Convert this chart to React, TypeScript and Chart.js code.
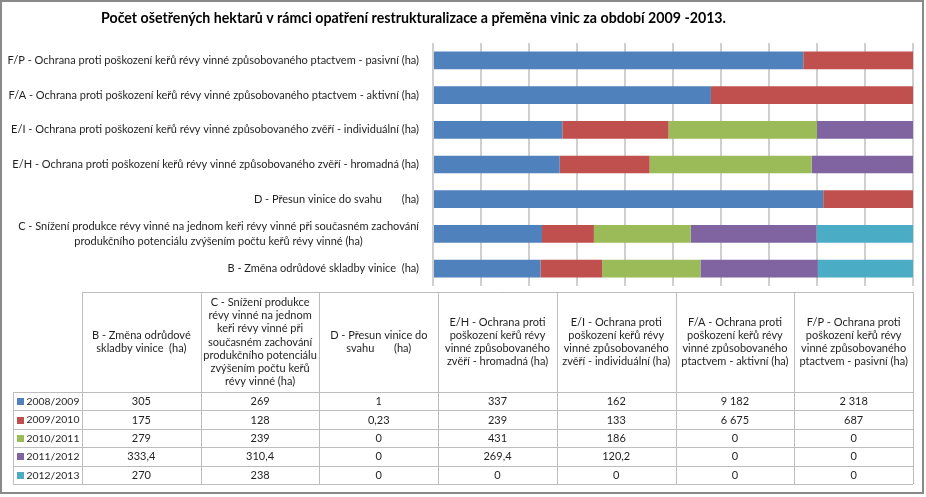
import React, { useEffect, useRef } from 'react';
import { Chart, registerables } from 'chart.js';

Chart.register(...registerables);

const TITLE = 'Počet ošetřených hektarů v rámci opatření restrukturalizace a přeměna vinic za období 2009 -2013.';

const categoryLabels: (string | string[])[] = [
  'B - Změna odrůdové skladby vinice  (ha)',
  ['C - Snížení produkce révy vinné na jednom keři révy vinné při současném zachování', 'produkčního potenciálu zvýšením počtu keřů révy vinné (ha)'],
  'D - Přesun vinice do svahu       (ha)',
  'E/H - Ochrana proti poškození keřů révy vinné způsobovaného zvěří - hromadná (ha)',
  'E/I - Ochrana proti poškození keřů révy vinné způsobovaného zvěří - individuální (ha)',
  'F/A - Ochrana proti poškození keřů révy vinné způsobovaného ptactvem - aktivní (ha)',
  'F/P - Ochrana proti poškození keřů révy vinné způsobovaného ptactvem - pasivní (ha)',
];

const tableHeaders: string[][] = [
  ['B - Změna odrůdové', 'skladby vinice  (ha)'],
  ['C - Snížení produkce', 'révy vinné na jednom', 'keři révy vinné při', 'současném zachování', 'produkčního potenciálu', 'zvýšením počtu keřů', 'révy vinné (ha)'],
  ['D - Přesun vinice do', 'svahu       (ha)'],
  ['E/H - Ochrana proti', 'poškození keřů révy', 'vinné způsobovaného', 'zvěří - hromadná (ha)'],
  ['E/I - Ochrana proti', 'poškození keřů révy', 'vinné způsobovaného', 'zvěří - individuální (ha)'],
  ['F/A - Ochrana proti', 'poškození keřů révy', 'vinné způsobovaného', 'ptactvem - aktivní (ha)'],
  ['F/P - Ochrana proti', 'poškození keřů révy', 'vinné způsobovaného', 'ptactvem - pasivní (ha)'],
];

const seasons = ['2008/2009', '2009/2010', '2010/2011', '2011/2012', '2012/2013'];
const v2008_2009 = [305, 269, 1, 337, 162, 9182, 2318];
const v2009_2010 = [175, 128, 0.23, 239, 133, 6675, 687];
const v2010_2011 = [279, 239, 0, 431, 186, 0, 0];
const v2011_2012 = [333.4, 310.4, 0, 269.4, 120.2, 0, 0];
const v2012_2013 = [270, 238, 0, 0, 0, 0, 0];
const seriesValues = [v2008_2009, v2009_2010, v2010_2011, v2011_2012, v2012_2013];

const seriesColors = ['#4F81BD', '#C0504D', '#9BBB59', '#8064A2', '#4BACC6'];

const FAMILY = 'Lato';
const TEXT = '#1f1f1f';

function fmt(v: number): string {
  const [i, d] = String(v).split('.');
  const ig = i.replace(/\B(?=(\d{3})+(?!\d))/g, '\u00a0');
  return d ? ig + ',' + d : ig;
}

function fitSize(text: string, weight: string, target: number): number {
  const c = document.createElement('canvas').getContext('2d')!;
  c.font = `${weight} 100px ${FAMILY}`;
  return Math.round(((100 * target) / c.measureText(text).width) * 10) / 10;
}

export default function App() {
  const ref = useRef<HTMLCanvasElement>(null);

  useEffect(() => {
    const canvas = ref.current!;
    const labelSize = fitSize(categoryLabels[6] as string, 'normal', 410);
    const titleSize = fitSize(TITLE, 'bold', 627);
    const legendSize = fitSize(seasons[0], 'normal', 53);
    const labelFont = `normal ${labelSize}px ${FAMILY}`;
    const legendFont = `normal ${legendSize}px ${FAMILY}`;

    // center second line of the two-line label under the first one
    const mctx = document.createElement('canvas').getContext('2d')!;
    mctx.font = labelFont;
    const yLabels = categoryLabels.map((l) => {
      if (!Array.isArray(l)) return l;
      const w1 = mctx.measureText(l[0]).width;
      const w2 = mctx.measureText(l[1]).width;
      const sp = mctx.measureText(' ').width;
      const n = Math.max(0, Math.round((w1 - w2) / 2 / sp));
      return [l[0], l[1] + ' '.repeat(n)];
    });

    const totals = categoryLabels.map((_, j) => seriesValues.reduce((s, arr) => s + arr[j], 0));
    const datasets = seasons.map((name, i) => ({
      label: name,
      data: seriesValues[i].map((v, j) => (v / totals[j]) * 100),
      backgroundColor: seriesColors[i],
      borderWidth: 0,
      barPercentage: 0.51,
      categoryPercentage: 1,
    }));

    const decor = {
      id: 'decor',
      afterDraw(chart: any) {
        const ctx = chart.ctx as CanvasRenderingContext2D;
        ctx.save();
        // outer border
        ctx.strokeStyle = '#8a8a8a';
        ctx.lineWidth = 2;
        ctx.strokeRect(1, 1, 922, 492);

        // title
        ctx.fillStyle = '#000';
        ctx.font = `bold ${titleSize}px ${FAMILY}`;
        ctx.textAlign = 'center';
        ctx.textBaseline = 'middle';
        ctx.fillText(TITLE, 413.5, 18.5);

        // data table
        const right = chart.chartArea.right;
        const colLeft = 82;
        const ncol = categoryLabels.length;
        const colW = (right - colLeft) / ncol;
        const headTop = 292;
        const headBottom = 392;
        const rowH = 18.4;
        const legLeft = 13;
        const tableBottom = headBottom + rowH * seasons.length;

        ctx.strokeStyle = '#bdbdbd';
        ctx.lineWidth = 1;
        ctx.beginPath();
        ctx.moveTo(colLeft, headTop + 0.5);
        ctx.lineTo(right, headTop + 0.5);
        for (let r = 0; r <= seasons.length; r++) {
          const y = Math.round(headBottom + r * rowH) + 0.5;
          ctx.moveTo(legLeft, y);
          ctx.lineTo(right, y);
        }
        ctx.moveTo(legLeft + 0.5, headBottom);
        ctx.lineTo(legLeft + 0.5, tableBottom);
        for (let c = 0; c <= ncol; c++) {
          const x = Math.round(colLeft + c * colW) + 0.5;
          ctx.moveTo(x, headTop);
          ctx.lineTo(x, tableBottom);
        }
        ctx.stroke();

        ctx.fillStyle = TEXT;
        ctx.font = labelFont;
        ctx.textAlign = 'center';
        ctx.textBaseline = 'middle';
        const lh = 13.3;
        tableHeaders.forEach((lines, c) => {
          const cx = colLeft + (c + 0.5) * colW;
          const cy = (headTop + headBottom) / 2;
          const y0 = cy - ((lines.length - 1) * lh) / 2;
          lines.forEach((t, k) => ctx.fillText(t, cx, y0 + k * lh));
        });
        seasons.forEach((name, r) => {
          const cy = headBottom + (r + 0.5) * rowH + 0.5;
          ctx.fillStyle = seriesColors[r];
          ctx.fillRect(17, Math.round(cy - 3.5), 7, 7);
          ctx.fillStyle = TEXT;
          ctx.font = legendFont;
          ctx.textAlign = 'left';
          ctx.fillText(name, 26.5, cy);
          ctx.font = labelFont;
          ctx.textAlign = 'center';
          seriesValues[r].forEach((v, c) => {
            ctx.fillText(fmt(v), colLeft + (c + 0.5) * colW, cy);
          });
        });
        ctx.restore();
      },
    };

    const chart = new Chart(canvas, {
      type: 'bar',
      data: { labels: yLabels as any, datasets },
      options: {
        indexAxis: 'y',
        animation: false,
        responsive: false,
        maintainAspectRatio: false,
        layout: { padding: { left: 0, right: 13, top: 43, bottom: 211 } },
        plugins: { legend: { display: false }, title: { display: false }, tooltip: { enabled: false } },
        scales: {
          x: {
            stacked: true,
            min: 0,
            max: 100,
            ticks: { display: false, stepSize: 10 },
            grid: { color: '#d0d0d0', lineWidth: 2, drawTicks: false },
            border: { display: false },
            afterFit: (s: any) => { s.height = 0; },
          },
          y: {
            stacked: true,
            reverse: true,
            grid: { display: false, drawTicks: false },
            border: { display: false },
            ticks: {
              autoSkip: false,
              padding: 14,
              color: TEXT,
              font: { family: FAMILY, size: labelSize, lineHeight: 1.4 },
            },
            afterFit: (s: any) => { s.width = 433; },
          },
        },
      },
      plugins: [decor],
    });
    return () => chart.destroy();
  }, []);

  return (
    <div style={{ position: 'fixed', left: 0, top: 0, width: 926, height: 497, background: '#fff' }}>
      <canvas ref={ref} width={926} height={497} style={{ width: 926, height: 497, display: 'block' }} />
    </div>
  );
}
